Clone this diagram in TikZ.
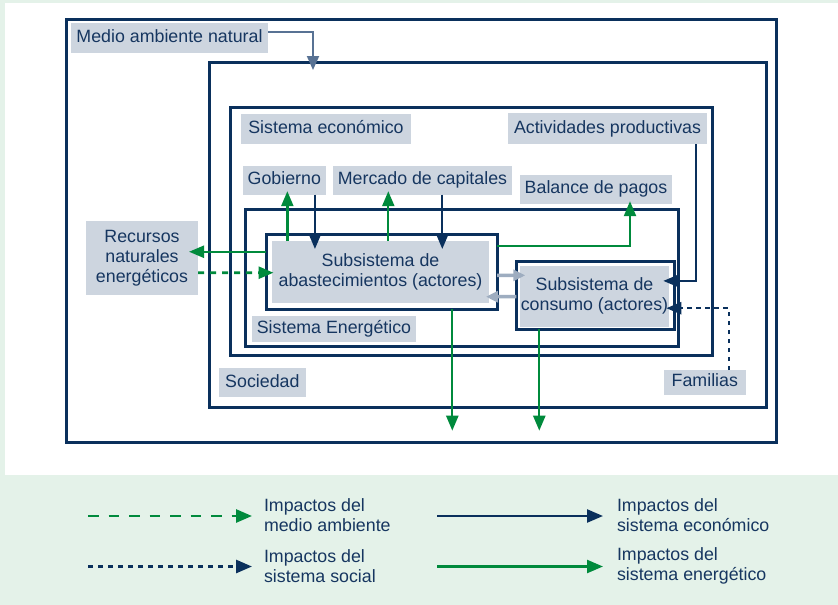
\documentclass[tikz,border=0pt]{standalone}
\usepackage{fontspec}
\setmainfont{Liberation Sans}
\usetikzlibrary{arrows.meta,calc}

\definecolor{navy}{RGB}{10,48,92}
\definecolor{ink}{RGB}{22,54,96}
\definecolor{egreen}{RGB}{0,138,60}
\definecolor{tagfill}{RGB}{205,213,223}
\definecolor{slate}{RGB}{88,114,148}
\definecolor{pale}{RGB}{158,173,192}
\definecolor{mint}{RGB}{228,242,233}

\begin{document}
\begin{tikzpicture}[x=1pt,y=-1pt,
  font=\fontsize{17.8}{20}\selectfont, text=ink,
  frame/.style={draw=navy, line width=3pt, inner sep=0pt, outer sep=0pt},
  tagbox/.style={fill=tagfill, inner sep=0pt, outer sep=0pt, align=center},
  tag/.style={tagbox, text height=12.8pt, text depth=3.7pt},
  keytext/.style={anchor=west, inner sep=0pt, outer sep=0pt, align=left},
  tip/.style={-{Triangle[length=15pt,width=12pt]}},
  eco/.style={draw=navy, line width=2.2pt, tip},
  nrg/.style={draw=egreen, line width=2.3pt, tip},
  env/.style={draw=egreen, line width=2.7pt, dash pattern=on 6pt off 6pt, tip},
  soc/.style={draw=navy, line width=2.5pt, dash pattern=on 4.5pt off 4.5pt, tip},
  link/.style={draw=slate, line width=2pt, -{Triangle[length=14pt,width=12pt]}},
  flow/.style={draw=pale, line width=3.5pt, -{Triangle[length=12pt,width=11pt]}}
]
\useasboundingbox (0,0) rectangle (838,605);

% page background and white panel
\fill[mint] (0,0) rectangle (838,605);
\fill[white] (5,3) rectangle (838,475);

% nested system frames
\node[frame, minimum width=710pt, minimum height=423pt] (nature) at (421,230.5) {};
\node[frame, minimum width=557pt, minimum height=345pt] (society) at (487.5,234.5) {};
\node[frame, minimum width=482pt, minimum height=247.5pt] (economy) at (471,231.25) {};
\node[frame, minimum width=433pt, minimum height=136.5pt] (energy) at (461.5,277.75) {};

% subsystems
\node[frame, fill=white, minimum width=231pt, minimum height=74.5pt] (abast) at (381.5,271.75) {};
\node[tagbox, minimum width=217pt, minimum height=61.5pt] (abastFill) at (380.5,271.75)
  {Subsistema de\\abastecimientos (actores)};
\node[frame, fill=white, minimum width=157.7pt, minimum height=68.3pt] (cons) at (595.15,295.15) {};
\node[tagbox, minimum width=149.6pt, minimum height=61pt] (consFill) at (594.5,296.2)
  {Subsistema de\\consumo (actores)};

% labels
\node[tag, minimum width=197pt, minimum height=30pt] (natureTag) at (169.5,38) {Medio ambiente natural};
\node[tag, minimum width=170pt, minimum height=29.4pt] (ecoTag) at (326,129) {Sistema económico};
\node[tag, minimum width=199pt, minimum height=30.7pt] (prodTag) at (607.5,128.65) {Actividades productivas};
\node[tag, minimum width=82.7pt, minimum height=28.7pt] (govTag) at (284.35,180.35) {Gobierno};
\node[tag, minimum width=179pt, minimum height=28.7pt] (capTag) at (422.5,180.35) {Mercado de capitales};
\node[tag, minimum width=152pt, minimum height=28.7pt] (payTag) at (596,189.35) {Balance de pagos};
\node[tagbox, minimum width=112pt, minimum height=73.7pt] (resTag) at (142,257.85)
  {Recursos\\naturales\\energéticos};
\node[tag, minimum width=164pt, minimum height=25.7pt] (enerTag) at (334,328.85) {Sistema Energético};
\node[tag, minimum width=86.7pt, minimum height=28.4pt] (socTag) at (262.35,382.5) {Sociedad};
\node[tag, minimum width=81.7pt, minimum height=24.7pt] (famTag) at (704.85,382.35) {Familias};

% impacts of the natural environment on society
\draw[link] ($(natureTag.east)+(0,-5.7)$) -| ($(society.north)+(-174.5,8)$);

% government and capital market
\draw[nrg] ($(abastFill.north -| govTag.south)+(3,0)$) -- ($(govTag.south)+(3,-3.5)$);
\draw[eco] ($(govTag.south)+(30.6,0)$) -- ($(abastFill.north -| govTag.south)+(30.6,8)$);
\draw[nrg] ($(abastFill.north -| capTag.south)+(-34.2,0)$) -- ($(capTag.south)+(-34.2,-3.5)$);
\draw[eco] ($(capTag.south)+(19.8,0)$) -- ($(abastFill.north -| capTag.south)+(19.8,8)$);

% balance of payments
\draw[nrg] ($(abast.east)+(0,-25.75)$) -| ($(payTag.south)+(34,-2.5)$);

% natural energy resources
\draw[nrg] ($(abast.west)+(0,-20)$) -- ($(resTag.east)+(-9,-6.1)$);
\draw[env] ($(resTag.east)+(0,14.85)$) -- ($(abastFill.west)+(1.5,0.95)$);

% exchange between supply and consumption
\draw[flow] ($(abast.east)+(0,3.6)$) -- ($(cons.west)+(9,-19.8)$);
\draw[flow] ($(cons.west)+(0,1.5)$) -- ($(abastFill.east)+(-3,25)$);

% productive activities and households
\draw[eco] ($(prodTag.south)+(88.2,0)$) |- ($(consFill.east)+(-6,-15.3)$);
\draw[soc] ($(famTag.north)+(24,0)$) |- ($(consFill.east)+(-3,12)$);

% outgoing energy impacts
\draw[nrg] ($(abast.south)+(70.8,0)$) -- ++(0,121.7);
\draw[nrg] ($(cons.south)+(-55.85,0)$) -- ++(0,101.4);

% key
\node[keytext] (envKey) at (264,514.65) {Impactos del\\medio ambiente};
\node[keytext] (socKey) at (264,566) {Impactos del\\sistema social};
\node[keytext] (ecoKey) at (617,514.65) {Impactos del\\sistema económico};
\node[keytext] (nrgKey) at (617,566) {Impactos del\\sistema energético};

\coordinate (envA) at (88,516);
\coordinate (socA) at (88,566.5);
\coordinate (ecoA) at (437,516);
\coordinate (nrgA) at (437,566.5);

\draw[env, dash pattern=on 10.5pt off 10pt, -{Triangle[length=16pt,width=13pt]}]
  (envA) -- ($(envA -| envKey.west)+(-12,0)$);
\draw[soc, line width=2.7pt, dash pattern=on 5pt off 5pt, -{Triangle[length=16pt,width=13pt]}]
  (socA) -- ($(socA -| socKey.west)+(-12,0)$);
\draw[eco, line width=2.4pt, -{Triangle[length=16pt,width=13pt]}]
  (ecoA) -- ($(ecoA -| ecoKey.west)+(-14,0)$);
\draw[nrg, line width=2.4pt, -{Triangle[length=16pt,width=13pt]}]
  (nrgA) -- ($(nrgA -| nrgKey.west)+(-14,0)$);
\end{tikzpicture}
\end{document}
